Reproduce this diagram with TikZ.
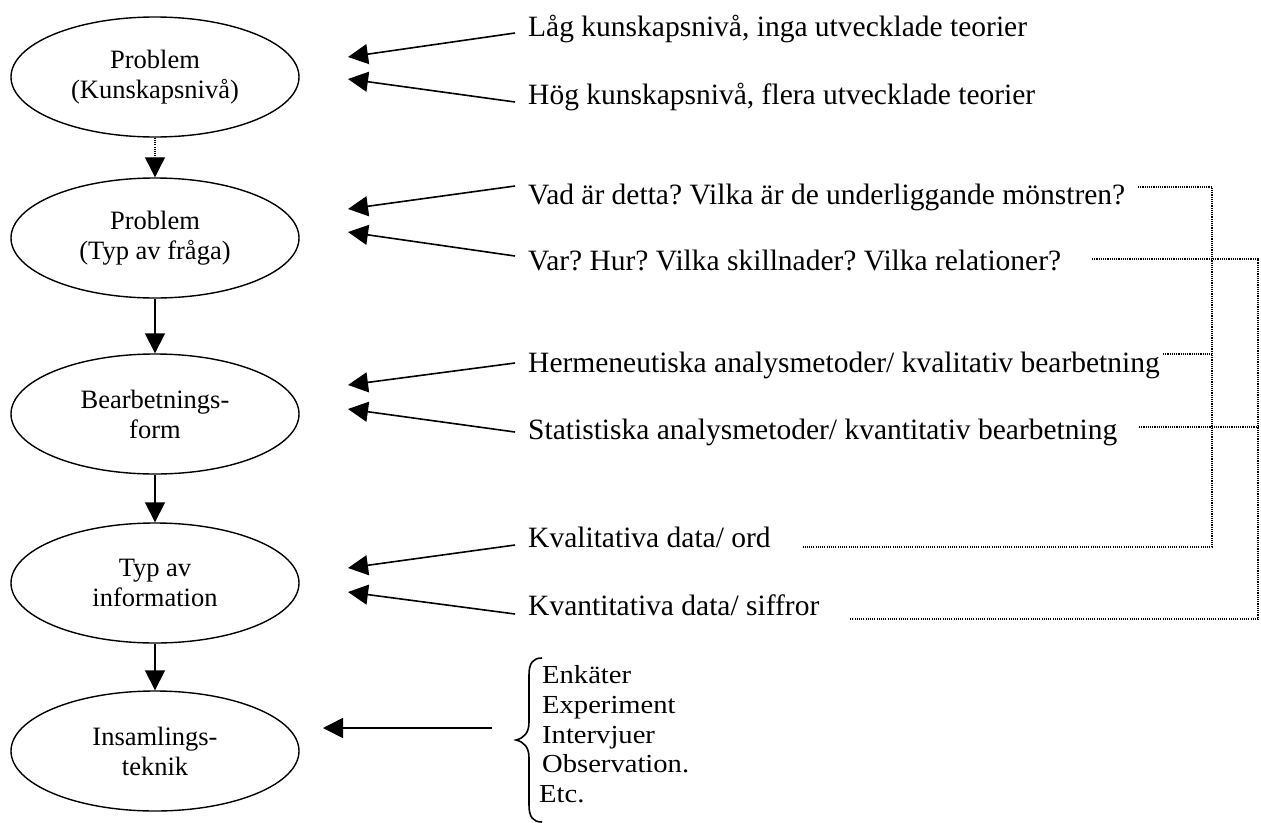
\documentclass[tikz,border=0pt]{standalone}
\usepackage{graphicx}
\usepackage{fontspec}
\setmainfont{Liberation Serif}
\usetikzlibrary{shapes.geometric,arrows.meta}
\frenchspacing
\newcommand\widetext[1]{\scalebox{1.1}[1]{#1}}

\begin{document}
\begin{tikzpicture}[x=1pt,y=-1pt,
  stage/.style={draw, line width=1.4pt, ellipse, minimum width=288pt,
    minimum height=120pt, inner sep=0pt, align=center,
    font=\fontsize{26.5}{30}\selectfont},
  lbl/.style={anchor=base west, inner sep=0pt, font=\fontsize{29.5}{30}\selectfont},
  item/.style={anchor=base west, inner sep=0pt, font=\fontsize{26}{29.5}\selectfont},
  feed/.style={line width=1.6pt, -{Triangle[length=20pt,width=20pt]}},
  dotline/.style={line width=1.1pt, dash pattern=on 1.1pt off 1.1pt},
]
\useasboundingbox (0,0) rectangle (1261,822);

% stages of the research process
\node[stage] (e1) at (155,77)  {Problem\\(Kunskapsnivå)};
\node[stage] (e2) at (155,238) {Problem\\(Typ av fråga)};
\node[stage] (e3) at (155,414) {Bearbetnings-\\form};
\node[stage] (e4) at (155,583) {Typ av\\information};
\node[stage] (e5) at (155,751) {Insamlings-\\teknik};

\draw[feed, dotline] (e1) -- (e2);
\draw[feed] (e2) -- (e3);
\draw[feed] (e3) -- (e4);
\draw[feed] (e4) -- (e5);

% alternatives on the right
\node[lbl] (t1) at (528,36)  {Låg kunskapsnivå, inga utvecklade teorier};
\node[lbl] (t2) at (528,104) {Hög kunskapsnivå, flera utvecklade teorier};
\node[lbl] (t3) at (528,204) {Vad är detta? Vilka är de underliggande mönstren?};
\node[lbl] (t4) at (528,270) {Var? Hur? Vilka skillnader? Vilka relationer?};
\node[lbl] (t5) at (528,372) {Hermeneutiska analysmetoder/ kvalitativ bearbetning};
\node[lbl] (t6) at (528,439) {Statistiska analysmetoder/ kvantitativ bearbetning};
\node[lbl] (t7) at (528,547) {Kvalitativa data/ ord};
\node[lbl] (t8) at (528,615) {Kvantitativa data/ siffror};

% arrow start and tip points
\coordinate (s1) at (515,33);  \coordinate (h1) at (348,57);
\coordinate (s2) at (515,102); \coordinate (h2) at (348,79);
\coordinate (s3) at (515,186); \coordinate (h3) at (348,209);
\coordinate (s4) at (515,256); \coordinate (h4) at (348,232);
\coordinate (s5) at (515,363); \coordinate (h5) at (348,385);
\coordinate (s6) at (515,432); \coordinate (h6) at (348,409);
\coordinate (s7) at (515,545); \coordinate (h7) at (348,568);
\coordinate (s8) at (515,614); \coordinate (h8) at (348,592);
\coordinate (s9) at (492,728); \coordinate (h9) at (323,728);

\foreach \i in {1,...,9} \draw[feed] (s\i) -- (h\i);

% dotted links between matching alternatives
\coordinate (q1) at (1138,187); \coordinate (q1c) at (1212,187);
\coordinate (q1d) at (1212,547); \coordinate (q1e) at (803,547);
\draw[dotline] (q1) -- (q1c) -- (q1d) -- (q1e);
\coordinate (q2) at (1092,259); \coordinate (q2c) at (1258,259);
\coordinate (q2d) at (1258,619); \coordinate (q2e) at (850,619);
\draw[dotline] (q2) -- (q2c) -- (q2d) -- (q2e);
\coordinate (q3) at (1163,354); \coordinate (q3e) at (1212,354);
\draw[dotline] (q3) -- (q3e);
\coordinate (q4) at (1139,427); \coordinate (q4e) at (1258,427);
\draw[dotline] (q4) -- (q4e);

% collection techniques with brace
\draw[line width=1.6pt] (542,658) .. controls (533,658) and (529,663) .. (529,675)
  -- (529,722) .. controls (529,733) and (524,738) .. (516,740)
  .. controls (524,742) and (529,747) .. (529,758)
  -- (529,805) .. controls (529,817) and (533,822) .. (542,822);
\node[item] (l1) at (542,683) {\widetext{Enkäter}};
\node[item] (l2) at (542,713) {\widetext{Experiment}};
\node[item] (l3) at (542,743) {\widetext{Intervjuer}};
\node[item] (l4) at (542,772) {\widetext{Observation.}};
\node[item] (l5) at (539,802) {\widetext{Etc.}};
\end{tikzpicture}
\end{document}
